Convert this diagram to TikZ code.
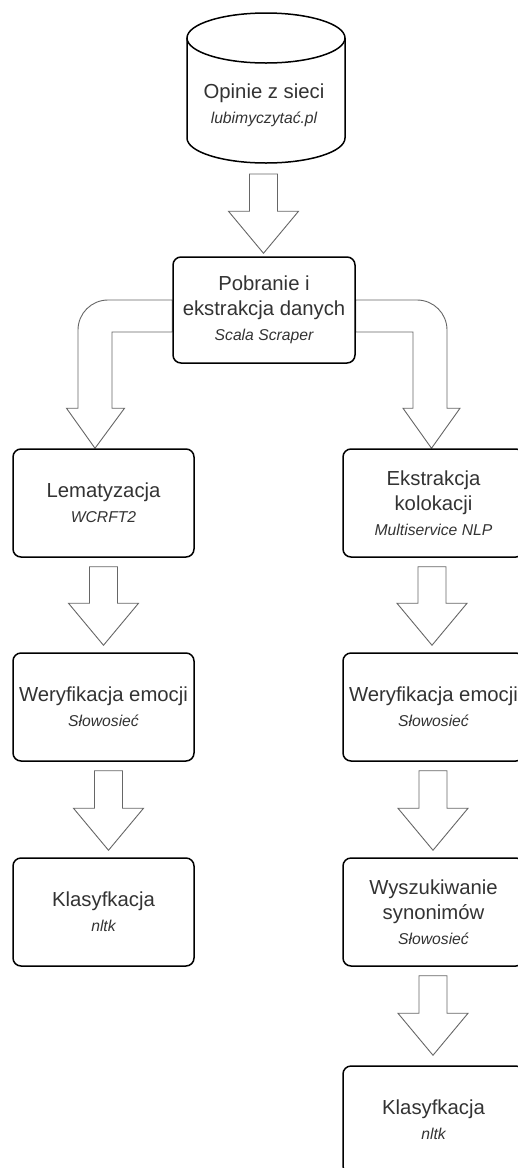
\documentclass[tikz,border=0pt]{standalone}
\usepackage{fontspec}
\setmainfont{Liberation Sans}
\usetikzlibrary{calc,backgrounds}

\definecolor{ink}{HTML}{333333}
\definecolor{arrowline}{HTML}{666666}

\newcommand\mainsize{\fontsize{20.3}{25}\selectfont}
\newcommand\toolname[1]{{\fontsize{15.7}{25}\selectfont\itshape #1}}

\tikzset{
  stage/.style={draw=black, line width=1.5pt, rounded corners=8pt, fill=white,
    minimum width=181pt, minimum height=108pt, align=center, text=ink,
    inner sep=2pt, font=\mainsize},
  blockarr/.style={draw=arrowline, line width=0.9pt, fill=white, line join=miter},
}

% Hollow block arrow: start point, end point, x of its axis, gap above the target
\newcommand\blockarrow[4]{%
  \draw[blockarr] let \p1=#1, \p2=#2 in
    ({#3pt-14pt},{\y1-9pt}) -- ({#3pt+14pt},{\y1-9pt})
    -- ({#3pt+14pt},{\y2+#4+42pt}) -- ({#3pt+35pt},{\y2+#4+42pt})
    -- ({#3pt},{\y2+#4})
    -- ({#3pt-35pt},{\y2+#4+42pt}) -- ({#3pt-14pt},{\y2+#4+42pt}) -- cycle;}

\begin{document}
\begin{tikzpicture}[x=1pt, y=1pt]
  \useasboundingbox (0,0) rectangle (518,-1168);
  \clip (0,0) rectangle (518,-1168);

  % data source drum
  \draw[line width=1.5pt, fill=white]
    (187,-38) -- (187,-138) arc[start angle=180, end angle=360, x radius=79, y radius=25]
    -- (345,-38);
  \draw[line width=1.5pt, fill=white] (266,-38) ellipse[x radius=79, y radius=25];
  \node[text=ink, align=center, font=\mainsize] (db) at (264,-105)
    {Opinie z sieci\\\toolname{lubimyczytać.pl}};
  \coordinate (dbfoot) at (264,-165);

  % scraping stage
  \node[stage, minimum width=182pt, minimum height=106pt] (P) at (264,-310)
    {Pobranie i\\ekstrakcja danych\\\toolname{Scala Scraper}};

  % left branch
  \node[stage] (L1) at (103.5,-503) {Lematyzacja\\\toolname{WCRFT2}};
  \node[stage] (L2) at (103.5,-707) {Weryfikacja emocji\\\toolname{Słowosieć}};
  \node[stage] (L3) at (103.5,-912) {Klasyfkacja\\\toolname{nltk}};

  % right branch
  \node[stage] (R1) at (433.5,-503) {Ekstrakcja\\kolokacji\\\toolname{Multiservice NLP}};
  \node[stage] (R2) at (433.5,-707) {Weryfikacja emocji\\\toolname{Słowosieć}};
  \node[stage] (R3) at (433.5,-912) {Wyszukiwanie\\synonimów\\\toolname{Słowosieć}};
  \node[stage] (R4) at (433.5,-1120) {Klasyfkacja\\\toolname{nltk}};

  \begin{pgfonlayer}{background}
    \blockarrow{(dbfoot)}{(P.north)}{263.5}{3pt}

    % split into the two branches
    \draw[blockarr] let \p1=(P.west), \p2=(L1.north) in
      (\x1,-300) -- (108,-300) .. controls (91.4,-300) and (78,-313.4) .. (78,-330)
      -- (78pt,{\y2+40pt}) -- (66.5pt,{\y2+40pt}) -- (95pt,\y2)
      -- (124.5pt,{\y2+40pt}) -- (112pt,{\y2+40pt}) -- (112,-332) -- (\x1,-332pt) -- cycle;
    \draw[blockarr] let \p1=(P.east), \p2=(R1.north) in
      (\x1,-300) -- (417,-300) .. controls (433.6,-300) and (447,-313.4) .. (447,-330)
      -- (447pt,{\y2+40pt}) -- (460pt,{\y2+40pt}) -- (431.5pt,\y2)
      -- (403pt,{\y2+40pt}) -- (413pt,{\y2+40pt}) -- (413,-332) -- (\x1,-332pt) -- cycle;

    \blockarrow{(L1.south)}{(L2.north)}{103.5}{7pt}
    \blockarrow{(L2.south)}{(L3.north)}{108.5}{7pt}
    \blockarrow{(R1.south)}{(R2.north)}{432}{7pt}
    \blockarrow{(R2.south)}{(R3.north)}{433}{7pt}
    \blockarrow{(R3.south)}{(R4.north)}{433}{10pt}
  \end{pgfonlayer}
\end{tikzpicture}
\end{document}
